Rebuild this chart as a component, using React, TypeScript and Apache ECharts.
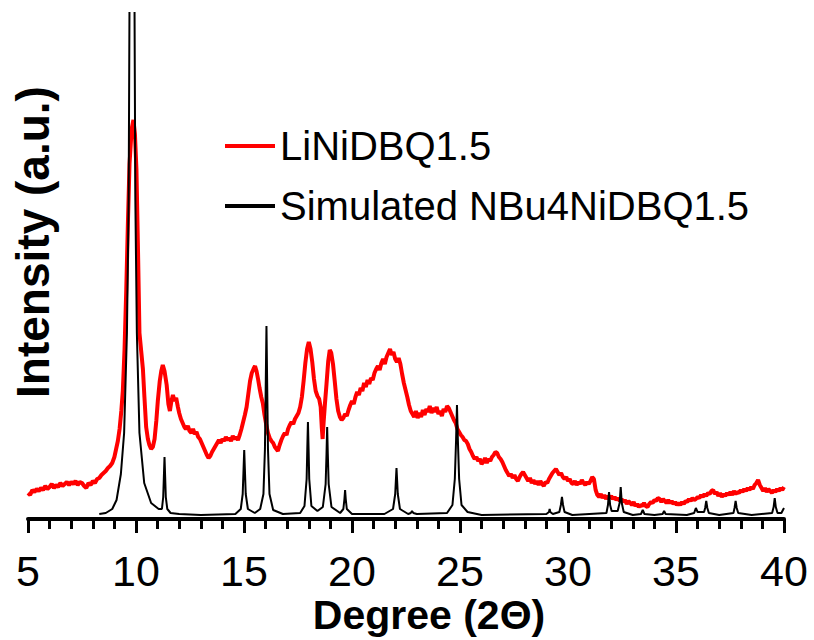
import React, { useEffect, useRef } from "react";
import * as echarts from "echarts";

const seriesNames = ["LiNiDBQ1.5", "Simulated NBu4NiDBQ1.5"];
const xMin = 5;
const xMax = 40;
const xStep = 5;
const yMax = 506;

// Measured LiNiDBQ1.5 pattern: [2θ (deg), intensity (a.u.)]
const liniDBQ: [number, number][] = [
  [5.0,26],[5.1,24],[5.2,29],[5.3,27],[5.4,30],[5.5,28],[5.6,31],[5.7,29],[5.8,33],[5.9,30],[6.0,32],[6.1,35],[6.2,31],[6.3,34],[6.4,32],[6.5,36],[6.6,33],[6.7,35],[6.8,37],[6.9,34],[7.0,37],[7.1,35],[7.2,38],[7.3,34],[7.4,37],[7.5,36],[7.6,33],[7.7,31],[7.8,36],[7.9,34],[8.0,38],[8.1,36],[8.2,40],[8.3,41],[8.4,44],[8.5,46],[8.6,48],[8.7,51],[8.8,53],[8.9,56],[9.0,62],[9.08,70],[9.16,78],[9.24,90],[9.32,108],[9.39,128],[9.47,170],[9.55,230],[9.63,300],[9.7,355],[9.8,390],[9.88,399],[9.95,385],[10.02,350],[10.1,260],[10.16,186],[10.24,168],[10.32,150],[10.39,122],[10.47,92],[10.55,80],[10.62,74],[10.7,70],[10.78,72],[10.86,80],[10.94,98],[11.01,118],[11.1,138],[11.17,148],[11.24,154],[11.32,148],[11.42,134],[11.5,115],[11.57,108],[11.64,118],[11.71,124],[11.78,118],[11.86,121],[11.94,112],[12.0,106],[12.08,100],[12.16,96],[12.24,92],[12.31,90],[12.4,93],[12.48,88],[12.56,86],[12.64,90],[12.72,85],[12.8,87],[12.88,82],[12.96,80],[13.04,76],[13.12,72],[13.2,68],[13.28,64],[13.36,61],[13.44,63],[13.52,67],[13.6,70],[13.68,73],[13.76,76],[13.84,79],[13.92,76],[14.0,80],[14.08,78],[14.16,82],[14.24,79],[14.32,81],[14.4,78],[14.48,83],[14.56,80],[14.64,82],[14.72,79],[14.8,84],[14.88,90],[14.96,97],[15.04,104],[15.12,112],[15.2,125],[15.28,138],[15.36,146],[15.44,150],[15.51,153],[15.58,148],[15.65,140],[15.72,131],[15.8,122],[15.87,116],[15.95,104],[16.03,94],[16.11,86],[16.19,81],[16.27,78],[16.35,76],[16.43,72],[16.5,70],[16.57,68],[16.65,74],[16.73,79],[16.81,83],[16.89,86],[16.97,84],[17.04,90],[17.12,94],[17.2,97],[17.28,95],[17.36,100],[17.44,103],[17.52,106],[17.6,112],[17.68,122],[17.76,138],[17.84,156],[17.92,170],[18.0,177],[18.08,170],[18.16,157],[18.24,140],[18.32,128],[18.4,123],[18.48,120],[18.55,112],[18.6,92],[18.64,80],[18.69,98],[18.75,116],[18.82,135],[18.9,158],[18.97,169],[19.04,166],[19.12,155],[19.2,138],[19.28,120],[19.36,108],[19.44,102],[19.52,99],[19.6,101],[19.68,105],[19.76,103],[19.84,109],[19.92,114],[20.0,118],[20.08,115],[20.16,122],[20.24,127],[20.32,124],[20.4,131],[20.48,128],[20.56,136],[20.64,132],[20.72,139],[20.8,135],[20.88,141],[20.96,139],[21.04,146],[21.12,150],[21.2,153],[21.28,149],[21.36,156],[21.44,160],[21.52,155],[21.6,162],[21.68,166],[21.76,170],[21.84,164],[21.92,167],[22.0,160],[22.08,157],[22.16,161],[22.24,155],[22.32,145],[22.4,136],[22.48,129],[22.56,122],[22.64,114],[22.72,108],[22.8,105],[22.88,102],[22.96,108],[23.04,101],[23.12,106],[23.2,102],[23.28,109],[23.36,104],[23.44,110],[23.52,107],[23.6,113],[23.68,106],[23.76,111],[23.84,107],[23.92,112],[24.0,105],[24.08,108],[24.16,103],[24.24,110],[24.32,107],[24.4,113],[24.48,111],[24.56,107],[24.64,103],[24.72,99],[24.8,96],[24.88,90],[24.96,87],[25.04,84],[25.12,82],[25.2,79],[25.28,78],[25.36,75],[25.44,70],[25.52,67],[25.6,63],[25.68,60],[25.76,62],[25.84,58],[25.92,60],[26.0,55],[26.08,57],[26.16,61],[26.24,56],[26.32,60],[26.4,58],[26.48,62],[26.56,64],[26.64,67],[26.72,66],[26.8,62],[26.88,60],[26.96,57],[27.04,53],[27.12,49],[27.2,46],[27.28,43],[27.36,45],[27.44,41],[27.52,44],[27.6,40],[27.68,38],[27.76,42],[27.84,45],[27.92,47],[28.0,44],[28.08,41],[28.16,38],[28.24,41],[28.32,36],[28.4,39],[28.48,35],[28.56,38],[28.64,34],[28.72,38],[28.8,35],[28.88,33],[28.96,37],[29.04,36],[29.12,40],[29.2,43],[29.28,46],[29.36,48],[29.44,50],[29.52,47],[29.6,44],[29.68,46],[29.76,42],[29.84,40],[29.92,42],[30.0,38],[30.08,40],[30.16,36],[30.24,35],[30.32,38],[30.4,34],[30.48,37],[30.56,35],[30.64,39],[30.72,36],[30.8,34],[30.88,37],[30.96,35],[31.04,38],[31.12,42],[31.2,40],[31.28,29],[31.36,24],[31.44,22],[31.52,25],[31.6,21],[31.68,24],[31.76,20],[31.84,23],[31.92,21],[32.0,23],[32.08,20],[32.16,22],[32.24,19],[32.32,21],[32.4,18],[32.48,20],[32.56,17],[32.64,19],[32.72,15],[32.8,18],[32.88,16],[32.96,14],[33.04,17],[33.12,13],[33.2,15],[33.28,12],[33.36,14],[33.44,13],[33.52,16],[33.6,13],[33.68,12],[33.76,15],[33.84,17],[33.92,16],[34.0,19],[34.08,18],[34.16,21],[34.24,20],[34.32,17],[34.4,20],[34.48,18],[34.56,16],[34.64,19],[34.72,16],[34.8,18],[34.88,15],[34.96,17],[35.04,14],[35.12,16],[35.2,14],[35.28,17],[35.36,15],[35.44,18],[35.52,17],[35.6,20],[35.68,18],[35.76,21],[35.84,19],[35.92,20],[36.0,22],[36.08,21],[36.16,24],[36.24,22],[36.32,25],[36.4,23],[36.48,26],[36.56,25],[36.64,28],[36.72,29],[36.8,25],[36.88,27],[36.96,23],[37.04,26],[37.12,22],[37.2,25],[37.28,23],[37.36,26],[37.44,24],[37.52,27],[37.6,24],[37.68,28],[37.76,25],[37.84,27],[37.92,26],[38.0,29],[38.08,27],[38.16,30],[38.24,28],[38.32,31],[38.4,29],[38.48,32],[38.56,30],[38.64,34],[38.72,36],[38.8,39],[38.88,34],[38.96,31],[39.04,28],[39.12,31],[39.2,27],[39.28,30],[39.36,28],[39.44,26],[39.52,29],[39.6,27],[39.68,30],[39.76,28],[39.84,31],[39.92,29],[40.0,32]
];

// Simulated NBu4NiDBQ1.5 pattern: [2θ (deg), intensity (a.u.)]
const simulatedNBu4: [number, number][] = [
  [8.3,5],[8.6,6],[8.9,10],[9.1,19],[9.3,45],[9.45,86],[9.58,186],[9.66,319],[9.7,520],[9.81,1500],[9.93,520],[9.97,319],[10.04,186],[10.16,86],[10.38,36],[10.7,16],[11.05,10],[11.2,10],[11.26,22],[11.29,42],[11.32,62],[11.35,42],[11.38,22],[11.45,10],[11.6,6],[12.0,5],[13.0,4],
  [14.6,5],[14.85,10],[14.94,25],[14.98,50],[15.01,69],[15.04,50],[15.08,25],[15.18,10],[15.5,6],[15.75,10],[15.9,25],[15.97,70],[16.01,140],[16.04,193],[16.07,140],[16.11,70],[16.18,25],[16.35,9],[16.8,5],
  [17.6,6],[17.8,13],[17.9,40],[17.93,70],[17.96,97],[17.99,70],[18.02,40],[18.12,13],[18.4,8],[18.65,12],[18.78,35],[18.82,65],[18.85,92],[18.88,65],[18.92,35],[19.05,12],[19.45,6],[19.6,10],[19.65,20],[19.68,29],[19.71,20],[19.76,10],[20.0,5],
  [21.5,5],[21.9,10],[22.0,25],[22.03,38],[22.06,51],[22.09,38],[22.12,25],[22.22,10],[22.6,5],[22.72,6],[22.78,8],[22.84,6],[23.0,5],
  [24.4,6],[24.65,14],[24.76,40],[24.82,80],[24.86,114],[24.9,80],[24.96,40],[25.07,14],[25.35,7],[26.0,4],
  [29.0,5],[29.12,7],[29.15,10],[29.18,7],[29.3,5],[29.6,7],[29.67,14],[29.72,22],[29.77,14],[29.84,7],[30.2,4],
  [31.78,6],[31.85,14],[31.9,27],[31.95,14],[32.02,8],[32.3,8],[32.39,16],[32.44,32],[32.49,16],[32.58,7],[33.0,4],
  [33.38,5],[33.46,9],[33.54,5],[34.0,4],[34.38,5],[34.45,8],[34.52,5],[35.5,4],[35.84,6],[35.92,11],[36.0,7],
  [36.3,7],[36.35,11],[36.4,18],[36.45,11],[36.52,6],[37.0,4],[37.66,6],[37.71,11],[37.76,18],[37.81,11],[37.88,6],[38.5,4],
  [39.45,6],[39.52,12],[39.57,21],[39.62,12],[39.7,6],[39.88,6],[39.95,9],[40.0,11]
];

const FONT = "Liberation Sans, Arial, sans-serif";

export default function App() {
  const ref = useRef<HTMLDivElement>(null);
  useEffect(() => {
    if (!ref.current) return;
    const chart = echarts.init(ref.current, undefined, { renderer: "svg" });
    chart.setOption({
      animation: false,
      backgroundColor: "#ffffff",
      grid: { left: 28, right: 30, top: 13, bottom: 121, containLabel: false },
      xAxis: {
        type: "value",
        min: xMin,
        max: xMax,
        interval: xStep,
        axisLine: { onZero: false, lineStyle: { color: "#000", width: 4 } },
        axisTick: { show: true, inside: false, length: 14, lineStyle: { color: "#000", width: 3 } },
        minorTick: { show: true, splitNumber: 5, length: 10, lineStyle: { color: "#000", width: 3 } },
        splitLine: { show: false },
        minorSplitLine: { show: false },
        axisLabel: { fontSize: 43, color: "#000", fontFamily: FONT, margin: 32, lineHeight: 40 },
      },
      yAxis: { type: "value", min: 0, max: yMax, show: false },
      legend: {
        data: seriesNames,
        orient: "vertical",
        left: 220,
        top: 121,
        icon: "rect",
        itemWidth: 50,
        itemHeight: 4,
        itemGap: 20,
        textStyle: { fontSize: 40, fontFamily: FONT, color: "#000", lineHeight: 40 },
      },
      series: [
        {
          name: seriesNames[0],
          type: "line",
          data: liniDBQ,
          symbol: "none",
          showSymbol: false,
          clip: true,
          z: 2,
          color: "#ff0000",
          lineStyle: { color: "#ff0000", width: 4 },
        },
        {
          name: seriesNames[1],
          type: "line",
          data: simulatedNBu4,
          symbol: "none",
          showSymbol: false,
          clip: true,
          z: 3,
          color: "#000000",
          lineStyle: { color: "#000000", width: 2 },
        },
      ],
      graphic: [
        {
          type: "text",
          x: 33,
          y: 242,
          rotation: Math.PI / 2,
          style: {
            text: "Intensity (a.u.)",
            fontSize: 46,
            fontWeight: "bold",
            fontFamily: FONT,
            fill: "#000",
            lineHeight: 40,
            align: "center",
            verticalAlign: "middle",
            textAlign: "center",
            textVerticalAlign: "middle",
          },
        },
        {
          type: "text",
          x: 429,
          y: 615,
          style: {
            text: "Degree (2Θ)",
            fontSize: 41,
            fontWeight: "bold",
            fontFamily: FONT,
            fill: "#000",
            lineHeight: 34,
            align: "center",
            verticalAlign: "middle",
            textAlign: "center",
            textVerticalAlign: "middle",
          },
        },
      ],
    });
    return () => chart.dispose();
  }, []);
  return (
    <div
      ref={ref}
      style={{ position: "absolute", left: 0, top: 0, width: 814, height: 640 }}
    />
  );
}
